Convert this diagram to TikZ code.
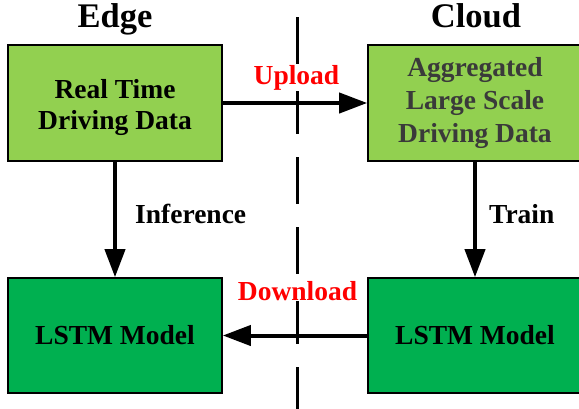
\documentclass[tikz,border=0pt]{standalone}
\usepackage{fontspec}
\setmainfont{Liberation Serif}
\usetikzlibrary{arrows.meta}
\definecolor{lightgrn}{HTML}{92D050}
\definecolor{darkgrn}{HTML}{00B050}
\definecolor{aggtext}{HTML}{3A3A3A}
\tikzset{
  box/.style={draw=black, line width=1.6pt, minimum width=214pt, inner sep=0pt, align=center,
    font=\fontsize{27.5}{31}\selectfont\bfseries},
  databox/.style={box, fill=lightgrn, minimum height=116pt},
  modelbox/.style={box, fill=darkgrn, minimum height=115pt},
  arr/.style={line width=4pt, -{Triangle[length=28pt,width=20pt]}, shorten >=0pt},
  lbl/.style={font=\fontsize{27.5}{31}\selectfont\bfseries, inner sep=1pt},
  head/.style={font=\fontsize{34.5}{40}\selectfont\bfseries, inner sep=0pt, anchor=base},
  divider/.style={line width=3pt, dash pattern=on 47pt off 23pt}
}
\begin{document}
\begin{tikzpicture}[x=1pt,y=-1pt]
\useasboundingbox (0,0) rectangle (579,408);
% divider
\coordinate (dtop) at (297,17);
\coordinate (dbot) at (297,412);
\draw[divider] (dtop) -- (dbot);
% boxes
\node[databox, text height=60pt] (rt) at (115,103) {Real Time\\Driving Data};
\node[databox, text=aggtext, font=\fontsize{27.5}{33}\selectfont\bfseries] (agg) at (475,103) {Aggregated\\Large Scale\\Driving Data};
\node[modelbox] (lm) at (115,335.5) {LSTM Model};
\node[modelbox] (cm) at (475,335.5) {LSTM Model};
% headers
\node[head] (edge) at (115,27) {Edge};
\node[head] (cloud) at (476,27) {Cloud};
% arrows
\draw[arr] (rt) -- (agg);
\draw[arr] (rt) -- (lm);
\draw[arr] (agg) -- (cm);
\draw[arr] (cm) -- (lm);
% labels
\node[lbl, text=red, fill=white, anchor=base] (up) at (296.5,84) {Upload};
\node[lbl, text=red, fill=white, anchor=base] (down) at (297.5,300) {Download};
\node[lbl, anchor=base west] (inf) at (134,223) {Inference};
\node[lbl, anchor=base west] (tr) at (488,223) {Train};
\end{tikzpicture}
\end{document}
